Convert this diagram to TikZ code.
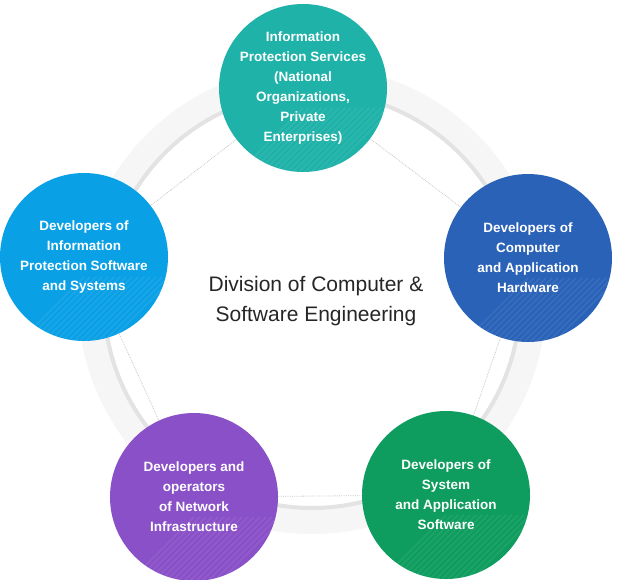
\documentclass[tikz,border=0pt]{standalone}
\usepackage{fontspec}
\setmainfont{Liberation Sans}
\usetikzlibrary{calc}
\begin{document}
\begin{tikzpicture}[x=1pt,y=-1pt,
  circ/.style={circle,minimum size=168pt,inner sep=0pt,align=center,text=white,font=\fontsize{13.5}{20}\selectfont\bfseries},
  link/.style={draw=gray!45,densely dotted,line width=0.8pt}]
\useasboundingbox (0,0) rectangle (623,580);
\fill[gray!7,even odd rule] (312,300) circle (234) (312,300) circle (206);
\draw[gray!22,line width=4pt] (312,300) circle (208);
\coordinate (ct) at (303,88);
\coordinate (cr) at (528,258);
\coordinate (cbr) at (446,495);
\coordinate (cbl) at (194,497);
\coordinate (cl) at (84,257);
\draw[link] (ct)--(cr)--(cbr)--(cbl)--(cl)--cycle;
\foreach \c/\col in {ct/{rgb,255:red,31;green,178;blue,168},cr/{rgb,255:red,42;green,98;blue,184},cbr/{rgb,255:red,14;green,157;blue,94},cbl/{rgb,255:red,138;green,80;blue,200},cl/{rgb,255:red,10;green,160;blue,230}}{
  \fill[color=\col] (\c) circle (84);
  \begin{scope}
  \clip (\c) circle (84);
  \foreach \k in {0,6,...,90}{\draw[white,opacity=0.07,line width=1.5pt] ($(\c)+(\k,20)$) -- ++(-120,120);}
  \end{scope}
}
\node[circ] (t) at (ct) {Information\\Protection Services\\(National\\Organizations,\\Private\\Enterprises)};
\node[circ] (r) at (cr) {Developers of\\Computer\\and Application\\Hardware};
\node[circ] (br) at (cbr) {Developers of\\System\\and Application\\Software};
\node[circ] (bl) at (cbl) {Developers and\\operators\\of Network\\Infrastructure};
\node[circ] (l) at (cl) {Developers of\\Information\\Protection Software\\and Systems};
\node[align=center,text=black!85,font=\fontsize{21}{30}\selectfont] (c) at (316,301) {Division of Computer \&\\Software Engineering};
\end{tikzpicture}
\end{document}
